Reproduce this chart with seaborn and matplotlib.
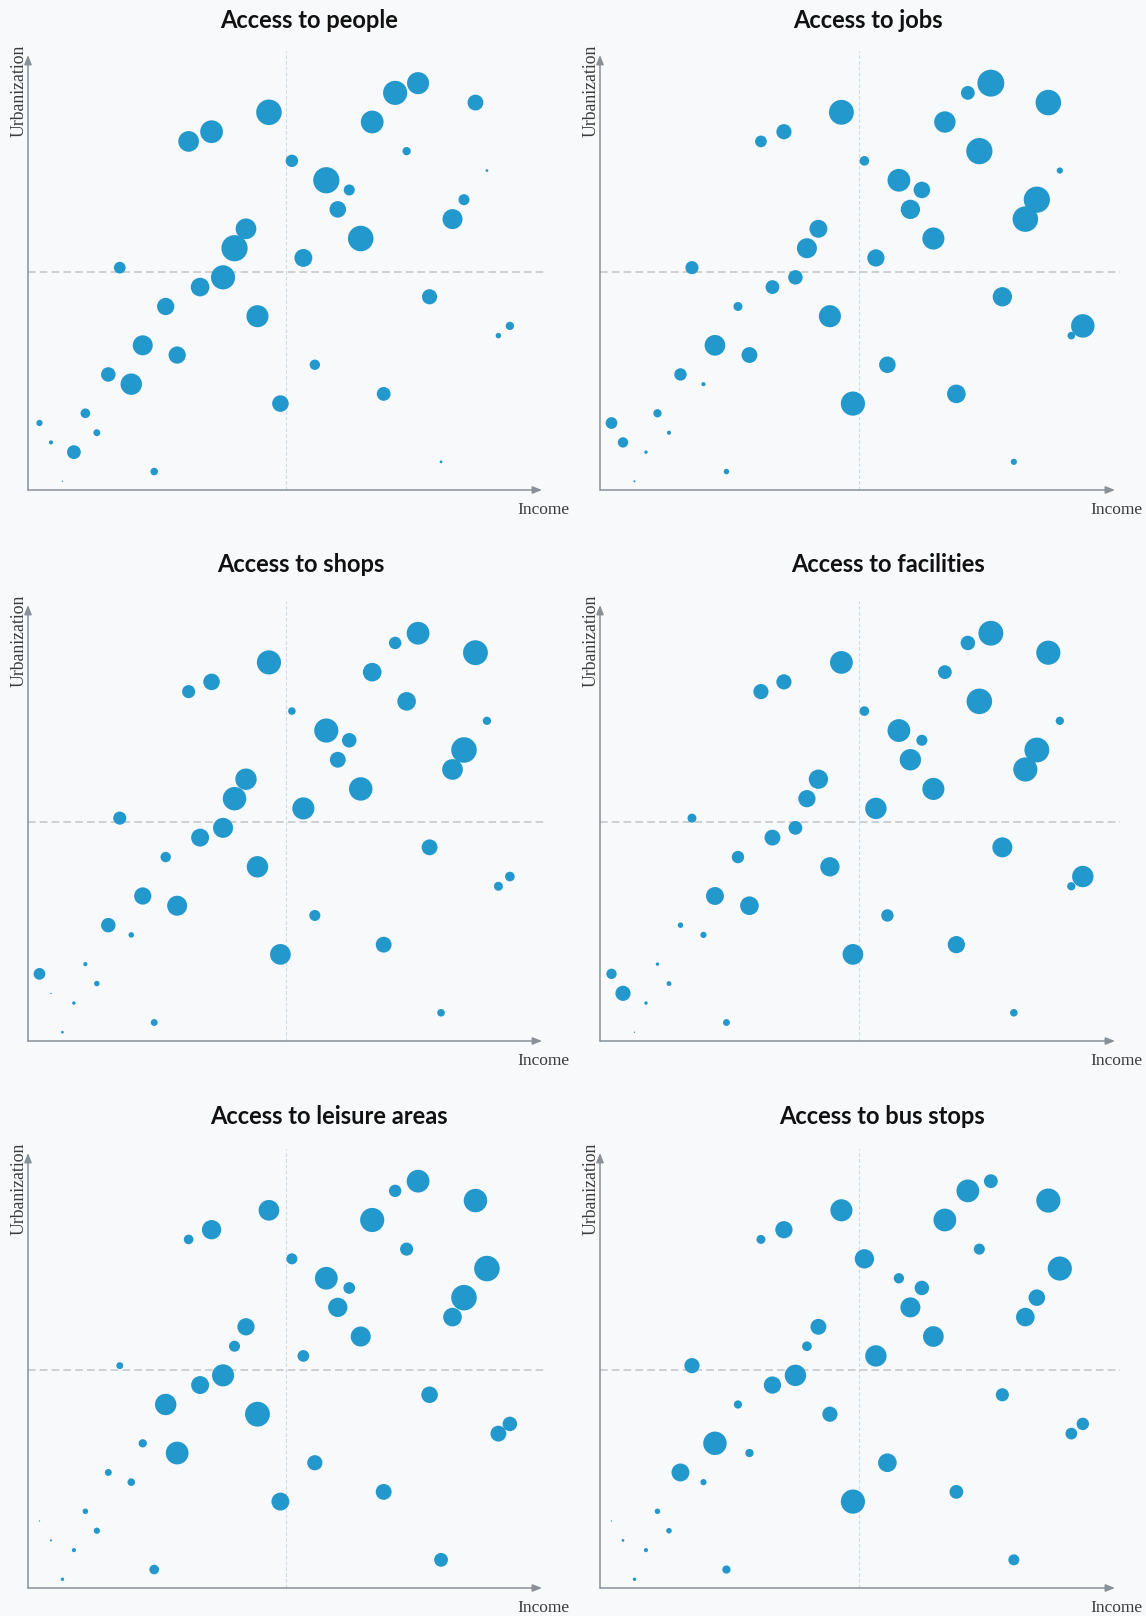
import numpy as np
import pandas as pd
import matplotlib
matplotlib.use("Agg")
import matplotlib.pyplot as plt
import seaborn as sns

# ---- data: districts ranked by income (x) and urbanization (y) ----
income_rank = [1, 2, 3, 4, 5, 6, 7, 8, 9, 10, 11, 12, 13, 14, 15, 16, 17, 18, 19, 20, 21,
               22, 23, 24, 25, 26, 27, 28, 29, 30, 31, 32, 33, 34, 35, 36, 37, 38, 39, 40, 41, 42]
urban_rank = [7, 5, 1, 4, 8, 6, 12, 23, 11, 15, 2, 19, 14, 36, 21, 37, 22, 25, 27, 18, 39,
              9, 34, 24, 13, 32, 29, 31, 26, 38, 10, 41, 35, 42, 20, 3, 28, 30, 40, 33, 16, 17]

titles = ["Access to people", "Access to jobs", "Access to shops",
          "Access to facilities", "Access to leisure areas", "Access to bus stops"]

# access level per district (bubble radius scale)
access_people = [9, 6, 2, 20, 14, 10, 21, 17, 31, 29, 11, 25, 25, 30, 27, 33, 35, 38, 30, 32, 37,
                 24, 18, 26, 15, 38, 24, 16, 37, 33, 20, 35, 12, 32, 22, 4, 29, 16, 23, 4, 8, 12]
access_jobs = [17, 15, 3, 5, 12, 6, 18, 19, 6, 30, 8, 13, 23, 17, 20, 22, 21, 29, 26, 32, 36,
               35, 14, 25, 24, 33, 28, 24, 32, 31, 27, 20, 38, 39, 28, 9, 37, 38, 37, 9, 11, 34]
access_shops = [17, 2, 4, 5, 6, 8, 21, 19, 8, 25, 10, 15, 29, 19, 26, 24, 29, 34, 31, 31, 35,
                30, 11, 32, 16, 35, 23, 21, 34, 27, 23, 18, 27, 33, 23, 11, 30, 37, 36, 12, 13, 14]
access_facilities = [15, 22, 2, 5, 5, 7, 8, 13, 9, 26, 10, 18, 27, 22, 23, 22, 20, 25, 28, 28, 33,
                     30, 14, 31, 18, 33, 31, 16, 32, 20, 25, 21, 37, 36, 29, 11, 35, 36, 35, 12, 12, 31]
access_leisure = [2, 3, 5, 6, 8, 9, 10, 10, 11, 12, 14, 31, 33, 14, 26, 28, 32, 16, 25, 36, 30,
                  26, 16, 17, 22, 33, 28, 17, 29, 35, 23, 18, 19, 33, 24, 20, 27, 37, 34, 37, 23, 21]
access_bus = [2, 4, 5, 6, 8, 8, 26, 22, 9, 34, 12, 12, 12, 13, 25, 25, 31, 14, 23, 22, 32,
              35, 28, 31, 27, 15, 29, 21, 30, 33, 20, 33, 16, 20, 19, 16, 27, 24, 35, 35, 17, 18]

access = [access_people, access_jobs, access_shops,
          access_facilities, access_leisure, access_bus]
median_rank = 22.5

# ---- styling ----
BG = "#f8f9fb"
BLUE = "#2398cc"
AXIS_COL = "#8a9098"
W, H = 1146, 1616

sns.set_style("white")
plt.rcParams["lines.scale_dashes"] = False

fig = plt.figure(figsize=(W / 100, H / 100), dpi=100, facecolor=BG)

col_px = [(28, 542), (600, 1115)]
row_px = [(55, 490), (605, 1041), (1153, 1588)]
title_x = [0.547, 0.521, 0.531, 0.560, 0.586, 0.547]
title_y = [1.080, 1.092, 1.083]

for i, (title, vals) in enumerate(zip(titles, access)):
    r, c = divmod(i, 2)
    x0, x1 = col_px[c]
    y0, y1 = row_px[r]
    ax = fig.add_axes([x0 / W, 1 - y1 / H, (x1 - x0) / W, (y1 - y0) / H])
    ax.patch.set_visible(False)

    df = pd.DataFrame({"income": income_rank, "urban": urban_rank,
                       "area": np.square(vals)})
    sns.scatterplot(data=df, x="income", y="urban", size="area",
                    sizes=(0, 395), size_norm=(0, 1600), color=BLUE,
                    linewidth=0, legend=False, ax=ax, zorder=3)

    ax.set_xlim(0, 44.8)
    ax.set_ylim(0.1, 44.9)
    ax.set_xticks([])
    ax.set_yticks([])
    ax.set_xlabel("")
    ax.set_ylabel("")
    for s in ax.spines.values():
        s.set_visible(False)

    # median lines
    ax.axvline(median_rank, ymax=1.01, color="#cddbe6", lw=0.8,
               ls=(0, (2.6, 1.6)), clip_on=False, zorder=1)
    ax.axhline(median_rank + 0.1, xmax=1.01, color="#c6c8cb", lw=1.2,
               ls=(0, (5.5, 3.0)), clip_on=False, zorder=1)

    # arrow axes
    arrow = dict(arrowstyle="-|>,head_length=0.55,head_width=0.22",
                 color=AXIS_COL, lw=1.1, shrinkA=0, shrinkB=0)
    ax.annotate("", xy=(1, 0), xytext=(0, 0), xycoords="axes fraction",
                arrowprops=arrow, zorder=2)
    ax.annotate("", xy=(0, 1), xytext=(0, 0), xycoords="axes fraction",
                arrowprops=arrow, zorder=2)

    ax.text(title_x[i], title_y[r], title, transform=ax.transAxes, ha="center",
            va="center", fontsize=17, fontweight="bold",
            family=["Lato", "DejaVu Sans"], color="#111111")
    ax.text(-0.018, 1.023, "Urbanization", transform=ax.transAxes,
            rotation=90, ha="center", va="top", fontsize=12.8,
            family=["Liberation Serif", "DejaVu Serif"], color="#3c3c3c")
    ax.text(1.054, -0.046, "Income", transform=ax.transAxes,
            ha="right", va="center", fontsize=12.5,
            family=["Liberation Serif", "DejaVu Serif"], color="#3c3c3c")

fig.savefig("out.png", dpi=100, facecolor=BG)
